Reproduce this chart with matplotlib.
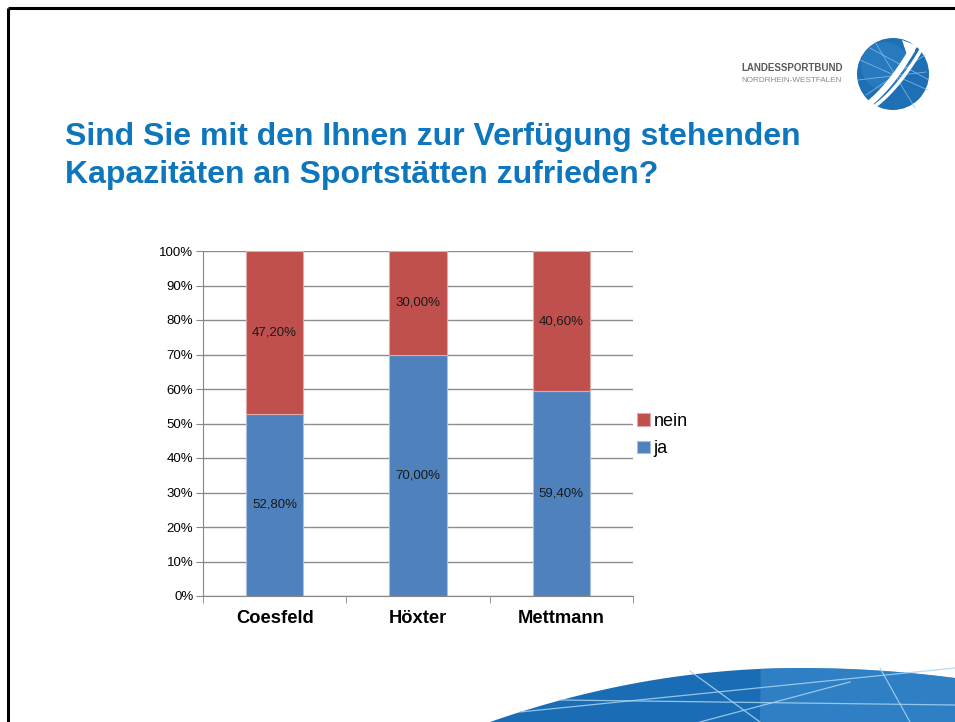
import numpy as np
import matplotlib
matplotlib.use('Agg')
import matplotlib.pyplot as plt
from matplotlib.patches import Circle, Polygon

plt.rcParams['font.family'] = ['Liberation Sans', 'DejaVu Sans']

# data
regions = ['Coesfeld', 'Höxter', 'Mettmann']
ja = [52.8, 70.0, 59.4]
nein = [47.2, 30.0, 40.6]
ja_labels = ['52,80%', '70,00%', '59,40%']
nein_labels = ['47,20%', '30,00%', '40,60%']
yticks = [0, 10, 20, 30, 40, 50, 60, 70, 80, 90, 100]

W, H = 955, 722
fig = plt.figure(figsize=(W / 100, H / 100), dpi=100)
fig.patch.set_facecolor('white')

# background layer in pixel coordinates (slide decoration)
bg = fig.add_axes([0, 0, 1, 1], zorder=0)
bg.set_xlim(0, W)
bg.set_ylim(H, 0)
bg.axis('off')

# slide border (top + left)
bg.plot([8, W], [8, 8], color='black', lw=2.2, solid_capstyle='butt')
bg.plot([8, 8], [8, H], color='black', lw=2.2, solid_capstyle='butt')

# logo
logo_c = (893, 74)
bg.add_patch(Circle(logo_c, 36, facecolor='#1f6fb4', edgecolor='none'))
bg.add_patch(Circle((885, 66), 24, facecolor='#2f86c9', edgecolor='none', alpha=0.5))
for (x0, y0, x1, y1) in [(860, 60, 928, 90), (866, 95, 925, 55), (875, 42, 915, 108),
                         (858, 80, 926, 72), (870, 48, 929, 80)]:
    bg.plot([x0, x1], [y0, y1], color='#8cc3ec', lw=0.6, alpha=0.8)
t = np.linspace(0, 1, 50)
for dx, lw in [(0, 4.5), (9, 2.5)]:
    xs = 866 + dx + 46 * t
    ys = 106 - 56 * t + 22 * t * (1 - t)
    bg.plot(xs, ys, color='white', lw=lw, solid_capstyle='round')
bg.add_patch(Polygon([[902, 40], [918, 46], [908, 58]], closed=True,
                     facecolor='white', edgecolor='none'))
bg.text(741, 68, 'LANDESSPORTBUND', fontsize=7, fontweight='bold', color='#5a5a5a',
        va='center', ha='left')
bg.text(741, 80, 'NORDRHEIN-WESTFALEN', fontsize=5.9, color='#8a8a8a',
        va='center', ha='left')

# bottom swoosh
xs = np.linspace(490, W, 80)
top = 668 + 54 * ((xs - 800) / 310) ** 2
top = np.where(xs > 800, 668 + 10 * ((xs - 800) / 155) ** 2, top)
poly = np.vstack([np.column_stack([xs, top]), [[W, H], [490, H]]])
bg.add_patch(Polygon(poly, closed=True, facecolor='#1a6db5', edgecolor='none'))
m = xs > 760
bg.add_patch(Polygon(np.vstack([np.column_stack([xs[m], top[m]]), [[W, H], [760, H]]]),
                     closed=True, facecolor='#3f8fd0', edgecolor='none', alpha=0.55))
for (x0, y0, x1, y1) in [(690, 671, 760, 722), (520, 712, 955, 668), (560, 700, 955, 705),
                         (880, 668, 910, 722), (700, 722, 850, 682)]:
    bg.plot([x0, x1], [y0, y1], color='#a9d4f2', lw=0.9, alpha=0.85)

# title
title_color = '#0e76bc'
fig.text(65 / W, 1 - 144.5 / H, 'Sind Sie mit den Ihnen zur Verfügung stehenden',
         fontsize=23, fontweight='bold', color=title_color, va='baseline', ha='left')
fig.text(65 / W, 1 - 183.5 / H, 'Kapazitäten an Sportstätten zufrieden?',
         fontsize=23, fontweight='bold', color=title_color, va='baseline', ha='left')

# chart
ax = fig.add_axes([203 / W, 1 - 596 / H, 430 / W, 345 / H], zorder=1)
x = np.arange(len(regions))
blue = '#4f81bd'
red = '#c0504d'
b1 = ax.bar(x, ja, width=0.4, color=blue, edgecolor='#a7c0de', linewidth=0.8,
            label='ja', zorder=2)
b2 = ax.bar(x, nein, width=0.4, bottom=ja, color=red, edgecolor='#e0a9a7',
            linewidth=0.8, label='nein', zorder=2)
for i in range(len(regions)):
    ax.text(x[i], ja[i] / 2, ja_labels[i], ha='center', va='center', fontsize=9.5,
            color='#1a1a1a', zorder=3)
    ax.text(x[i], ja[i] + nein[i] / 2, nein_labels[i], ha='center', va='center',
            fontsize=9.5, color='#1a1a1a', zorder=3)

ax.set_xlim(-0.5, len(regions) - 0.5)
ax.set_ylim(0, 100)
ax.set_yticks(yticks)
ax.set_yticklabels([f'{v}%' for v in yticks], fontsize=9.5)
ax.set_xticks(x)
ax.set_xticklabels(regions, fontsize=13.2, fontweight='bold')
ax.set_xticks([-0.5, 0.5, 1.5, 2.5], minor=True)
ax.tick_params(axis='x', which='major', length=0, pad=10)
ax.tick_params(axis='x', which='minor', length=5, color='#868686', direction='out')
ax.tick_params(axis='y', length=5, color='#868686', pad=2)
ax.grid(axis='y', color='#8c8c8c', lw=1.0, zorder=0)
ax.set_axisbelow(True)
for s in ['top', 'right']:
    ax.spines[s].set_visible(False)
ax.spines['left'].set_color('#868686')
ax.spines['bottom'].set_color('#868686')

handles = [b2, b1]
leg = fig.legend(handles, ['nein', 'ja'], loc='center left',
                 bbox_to_anchor=(621 / W, 1 - 435 / H), frameon=False, fontsize=13,
                 handlelength=0.7, handleheight=0.7, handletextpad=0.2,
                 labelspacing=0.6)

fig.savefig('out.png', dpi=100, facecolor='white')
